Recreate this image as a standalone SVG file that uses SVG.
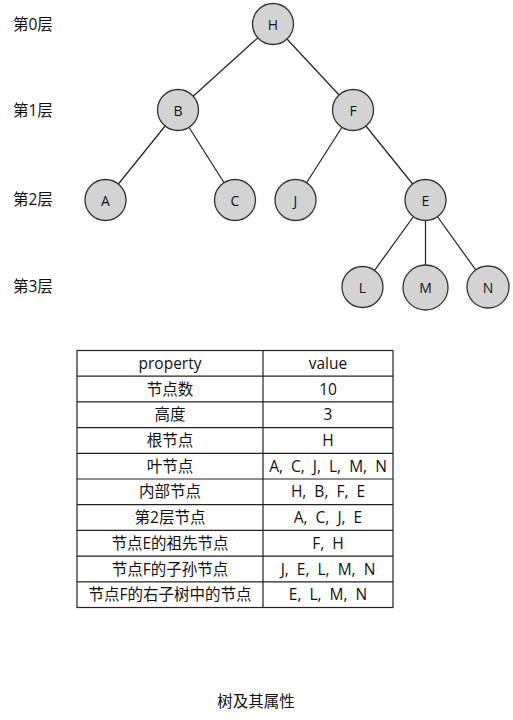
<svg xmlns="http://www.w3.org/2000/svg" width="513" height="720" viewBox="0 0 513 720">
<style>
text{font-family:"Open Sans","Noto Sans CJK SC",sans-serif;font-size:15.5px;fill:#111;}
.node circle{fill:#d3d3d3;stroke:#333;stroke-width:1.3;}
.node text{text-anchor:middle;dominant-baseline:central;font-size:14px;}
.edges line{stroke:#222;stroke-width:1.2;}
.lvl{dominant-baseline:central;}
.tbl line{stroke:#222;stroke-width:1.2;}
.tbl text{text-anchor:middle;dominant-baseline:central;}
.tbl .v{word-spacing:4px;}
</style>
<rect width="513" height="720" fill="#fff"/>
<g id="levels">
<text class="lvl" x="13" y="24">第0层</text>
<text class="lvl" x="13" y="110">第1层</text>
<text class="lvl" x="13" y="199">第2层</text>
<text class="lvl" x="13" y="286">第3层</text>
</g>
<g class="edges" id="connectors">
<line x1="273" y1="24" x2="178" y2="110"/>
<line x1="273" y1="24" x2="353" y2="110"/>
<line x1="178" y1="110" x2="105.5" y2="200"/>
<line x1="178" y1="110" x2="235" y2="200"/>
<line x1="353" y1="110" x2="295.5" y2="200"/>
<line x1="353" y1="110" x2="425.5" y2="200"/>
<line x1="425.5" y1="200" x2="362.5" y2="287"/>
<line x1="425.5" y1="200" x2="425.5" y2="287"/>
<line x1="425.5" y1="200" x2="488" y2="287"/>
</g>
<g class="node" id="node-H"><circle cx="273" cy="24" r="20.5"/><text x="273" y="24">H</text></g>
<g class="node" id="node-B"><circle cx="178" cy="110" r="20.5"/><text x="178" y="110">B</text></g>
<g class="node" id="node-F"><circle cx="353" cy="110" r="20.5"/><text x="353" y="110">F</text></g>
<g class="node" id="node-A"><circle cx="105.5" cy="200" r="20.5"/><text x="105.5" y="200">A</text></g>
<g class="node" id="node-C"><circle cx="235" cy="200" r="20.5"/><text x="235" y="200">C</text></g>
<g class="node" id="node-J"><circle cx="295.5" cy="200" r="20.5"/><text x="295.5" y="200">J</text></g>
<g class="node" id="node-E"><circle cx="425.5" cy="200" r="20.5"/><text x="425.5" y="200">E</text></g>
<g class="node" id="node-L"><circle cx="362.5" cy="287" r="20.5"/><text x="362.5" y="287">L</text></g>
<g class="node" id="node-M"><circle cx="425.5" cy="287.5" r="22.5"/><text x="425.5" y="287.5">M</text></g>
<g class="node" id="node-N"><circle cx="488" cy="287" r="21"/><text x="488" y="287">N</text></g>
<g class="tbl" id="table">
<rect x="77" y="350.5" width="316" height="257" fill="none" stroke="#222" stroke-width="1.2"/>
<line x1="263" y1="350.5" x2="263" y2="607.5"/>
<line x1="77" y1="376.2" x2="393" y2="376.2"/>
<line x1="77" y1="401.9" x2="393" y2="401.9"/>
<line x1="77" y1="427.6" x2="393" y2="427.6"/>
<line x1="77" y1="453.3" x2="393" y2="453.3"/>
<line x1="77" y1="479" x2="393" y2="479"/>
<line x1="77" y1="504.7" x2="393" y2="504.7"/>
<line x1="77" y1="530.4" x2="393" y2="530.4"/>
<line x1="77" y1="556.1" x2="393" y2="556.1"/>
<line x1="77" y1="581.8" x2="393" y2="581.8"/>
<text x="170" y="362.5">property</text><text x="328" y="362.5">value</text>
<text x="170" y="388.5">节点数</text><text class="v" x="328" y="388.5">10</text>
<text x="170" y="414">高度</text><text class="v" x="328" y="414">3</text>
<text x="170" y="439.5">根节点</text><text class="v" x="328" y="439.5">H</text>
<text x="170" y="465.5">叶节点</text><text class="v" x="328" y="465.5">A, C, J, L, M, N</text>
<text x="170" y="491">内部节点</text><text class="v" x="328" y="491">H, B, F, E</text>
<text x="170" y="517">第2层节点</text><text class="v" x="328" y="517">A, C, J, E</text>
<text x="170" y="542.5">节点E的祖先节点</text><text class="v" x="328" y="542.5">F, H</text>
<text x="170" y="568.5">节点F的子孙节点</text><text class="v" x="328" y="568.5">J, E, L, M, N</text>
<text x="170" y="594">节点F的右子树中的节点</text><text class="v" x="328" y="594">E, L, M, N</text>
</g>
<text x="256" y="701" text-anchor="middle" dominant-baseline="central" font-size="16">树及其属性</text>
</svg>
